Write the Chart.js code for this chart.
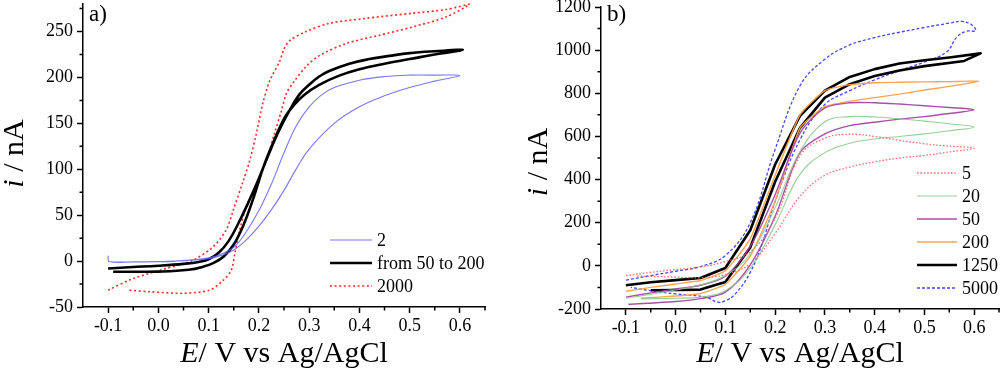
<!DOCTYPE html>
<html><head><meta charset="utf-8">
<script src="https://cdn.jsdelivr.net/npm/chart.js@4"></script>
<style>
html,body{margin:0;padding:0;background:#fff;}
#wrap{position:relative;width:1000px;height:373px;overflow:hidden;}
.pane{position:absolute;top:0;width:500px;height:373px;}
canvas{display:block;}
</style></head><body>
<div id="wrap">
<div class="pane" style="left:0"><canvas id="ca" width="500" height="373"></canvas></div>
<div class="pane" style="left:500px"><canvas id="cb" width="500" height="373"></canvas></div>
</div>
<script>
const FONT = '"Liberation Serif", "Times New Roman", Times, serif';

/* ---------- panel a ---------- */
const aXTicks = [-0.1, 0, 0.1, 0.2, 0.3, 0.4, 0.5, 0.6];
const aYTicks = [-50, 0, 50, 100, 150, 200, 250];
const aXMinor = [-0.05, 0.05, 0.15, 0.25, 0.35, 0.45, 0.55, 0.65];
const aYMinor = [-25, 25, 75, 125, 175, 225, 275];
const aLabels = ['2', 'from 50 to 200', '2000'];

const a2E = [-0.1,-0.098,-0.05,0,0.05,0.1,0.125,0.15,0.175,0.2,0.225,0.25,0.275,0.3,0.325,0.35,0.4,0.45,0.5,0.55,0.6,
             0.55,0.5,0.45,0.4,0.35,0.3,0.275,0.25,0.225,0.2,0.175,0.15,0.125,0.1,0.05,0,-0.05,-0.095];
const a2I = [6,-0.5,-0.8,-0.7,0.5,3.5,7.5,15,32,55,84,118,148,168,181,189,197,201,202.5,202.5,202,
             196,189,180,168,150,122,101,77,56,38,23,12,6,2.5,0.5,-0.5,-1,-1];

const a50E = [-0.1,-0.05,0,0.05,0.08,0.1,0.12,0.14,0.16,0.18,0.2,0.22,0.24,0.26,0.28,0.3,0.32,0.34,0.38,0.42,0.46,0.5,0.55,0.606,
              0.55,0.5,0.45,0.4,0.36,0.32,0.29,0.27,0.25,0.23,0.21,0.19,0.17,0.15,0.13,0.11,0.09,0.06,0,-0.05,-0.09];
const a50I = [-8,-6.5,-5,-3,-1,2,9,22,42,65,90,117,142,163,181,192,201,207,215,220,223.5,226.5,228.5,230,
              225,220,215,209,202,192,181,170,155,131,104,70,40,18,5,-2,-6,-9.5,-11.5,-11.6,-11.6];

const a2000E = [-0.1,-0.05,0.016,0.069,0.109,0.135,0.149,0.168,0.182,0.195,0.208,0.222,0.241,0.25,0.261,0.294,0.341,0.407,0.506,0.573,0.619,
                0.573,0.506,0.44,0.374,0.321,0.294,0.268,0.255,0.245,0.231,0.215,0.195,0.175,0.162,0.152,0.145,0.129,0.102,0.049,-0.017,-0.06];
const a2000I = [-31.6,-19,-8,1,15.6,34,55.5,86,110,139,172,197,217,231,240,250,259,264,270,274,280,
                266,255,246,237,224,212,194,183,164,139,110,83,59,34,8,-10,-21,-31.6,-35,-33.4,-31.6];

/* ---------- panel b ---------- */
const bXTicks = [-0.1, 0, 0.1, 0.2, 0.3, 0.4, 0.5, 0.6];
const bYTicks = [-200, 0, 200, 400, 600, 800, 1000, 1200];
const bXMinor = [-0.05, 0.05, 0.15, 0.25, 0.35, 0.45, 0.55, 0.65];
const bYMinor = [-100, 100, 300, 500, 700, 900, 1100];
const bLabels = ['5', '20', '50', '200', '1250', '5000'];

const b5E = [-0.1,-0.05,0,0.05,0.1,0.15,0.2,0.25,0.3,0.35,0.4,0.45,0.5,0.55,0.6, 0.55,0.5,0.45,0.4,0.35,0.3,0.25,0.2,0.15,0.1,0.05,0,-0.08];
const b5I = [-45,-30,-17,-5,20,65,220,510,592,610,600,582,566,555,546, 528,512,500,482,458,420,322,150,10,-40,-55,-52,-47];

const b20E = [-0.1,-0.05,0,0.05,0.1,0.15,0.2,0.25,0.3,0.35,0.4,0.45,0.5,0.55,0.6, 0.55,0.5,0.45,0.4,0.35,0.3,0.25,0.2,0.15,0.1,0.05,0,-0.07];
const b20I = [-150,-132,-112,-88,-45,55,270,530,668,692,690,682,671,659,644, 626,612,600,588,568,525,425,190,-10,-115,-145,-150,-153];

const b50E = [-0.1,-0.05,0,0.05,0.1,0.15,0.2,0.25,0.3,0.35,0.4,0.45,0.5,0.55,0.6, 0.55,0.5,0.45,0.4,0.35,0.3,0.25,0.2,0.15,0.1,0.05,0,-0.095];
const b50I = [-145,-125,-107,-90,-48,90,330,615,732,756,756,750,742,734,724, 706,692,680,666,650,612,525,230,5,-122,-152,-165,-178];

const b200E = [-0.1,-0.05,0,0.05,0.1,0.15,0.2,0.25,0.3,0.35,0.4,0.45,0.5,0.55,0.61, 0.55,0.5,0.45,0.4,0.35,0.3,0.25,0.2,0.15,0.1,0.05,0,-0.07];
const b200I = [-118,-100,-84,-68,-22,125,420,700,812,840,849,851,853,854,856, 832,815,796,780,763,738,640,300,45,-85,-128,-140,-150];

const b1250E = [-0.1,-0.05,0,0.05,0.1,0.15,0.2,0.25,0.3,0.35,0.4,0.45,0.5,0.55,0.613, 0.58,0.5,0.45,0.4,0.35,0.3,0.25,0.2,0.15,0.1,0.05,0,-0.05];
const b1250I = [-90,-76,-66,-56,-10,165,470,695,812,876,912,938,953,966,985, 950,926,906,880,842,780,640,390,85,-75,-110,-112,-113];

const b5000E = [-0.1,-0.05,0,0.05,0.1,0.15,0.2,0.25,0.3,0.35,0.4,0.45,0.5,0.55,0.575,0.595,0.603,
                0.585,0.565,0.545,0.5,0.45,0.4,0.35,0.3,0.25,0.2,0.175,0.15,0.12,0.1,0.085,0.06,0,-0.05,-0.09];
const b5000I = [-66,-45,-25,-3,48,200,540,835,958,1024,1058,1083,1105,1125,1133,1118,1090,
                1088,1060,992,945,905,862,812,748,585,300,110,-30,-130,-162,-168,-145,-130,-115,-100];

/* ---------- helpers ---------- */
const pts = (E, I) => E.map((e, k) => ({x: e, y: I[k]}));
function ds(label, E, I, color, width, dash, tension) {
  return { label, data: pts(E, I), showLine: true, borderColor: color, backgroundColor: color,
           borderWidth: width, borderDash: dash, tension, pointRadius: 0, fill: false, clip: false,
           borderJoinStyle: 'round' };
}

function rich(ctx, parts, size, x, y) {
  let w = 0;
  parts.forEach(p => { ctx.font = (p.it ? 'italic ' : '') + size + 'px ' + FONT; p.w = ctx.measureText(p.t).width; w += p.w; });
  let cx = x - w / 2;
  ctx.textAlign = 'left'; ctx.textBaseline = 'alphabetic';
  parts.forEach(p => { ctx.font = (p.it ? 'italic ' : '') + size + 'px ' + FONT; ctx.fillText(p.t, cx, y); cx += p.w; });
}

function decorPlugin(c) {
  return {
    id: 'decor',
    afterDraw(chart) {
      const ctx = chart.ctx, xs = chart.scales.x, ys = chart.scales.y, ca = chart.chartArea;
      ctx.save();
      ctx.strokeStyle = '#000'; ctx.lineWidth = 1.5;
      ctx.beginPath();
      c.xMinor.forEach(v => { const p = xs.getPixelForValue(v); ctx.moveTo(p, ca.bottom); ctx.lineTo(p, ca.bottom + 3.5); });
      c.yMinor.forEach(v => { const p = ys.getPixelForValue(v); ctx.moveTo(ca.left, p); ctx.lineTo(ca.left - 3.5, p); });
      ctx.stroke();
      ctx.fillStyle = '#000';
      ctx.font = '23px ' + FONT; ctx.textAlign = 'left'; ctx.textBaseline = 'alphabetic';
      ctx.fillText(c.panel, ca.left + 6, 21);
      rich(ctx, [{t: 'E', it: true}, {t: '/ V vs Ag/AgCl'}], 30, (ca.left + ca.right) / 2, 362);
      ctx.save();
      ctx.translate(c.yTitleX, (ca.top + ca.bottom) / 2 + c.yTitleDy);
      ctx.rotate(-Math.PI / 2);
      rich(ctx, [{t: 'i', it: true}, {t: ' / nA'}], 30, 0, 0);
      ctx.restore();
      const L = c.legend;
      chart.data.datasets.forEach((d, k) => {
        const y = L.y0 + k * L.dy;
        ctx.save();
        ctx.strokeStyle = d.borderColor; ctx.lineWidth = d.borderWidth;
        ctx.setLineDash(d.borderDash || []);
        ctx.beginPath(); ctx.moveTo(L.x0, y); ctx.lineTo(L.x1, y); ctx.stroke();
        ctx.restore();
        ctx.fillStyle = '#000'; ctx.font = '18px ' + FONT; ctx.textAlign = 'left'; ctx.textBaseline = 'middle';
        ctx.fillText(d.label, L.tx, y + 1);
      });
      ctx.restore();
    }
  };
}

function makeChart(id, c) {
  return new Chart(document.getElementById(id), {
    type: 'scatter',
    data: { datasets: c.datasets },
    options: {
      responsive: false, animation: false, devicePixelRatio: 1,
      layout: { padding: c.padding },
      plugins: { legend: {display: false}, tooltip: {enabled: false}, title: {display: false} },
      elements: { point: { radius: 0 } },
      scales: {
        x: {
          type: 'linear', min: c.xMin, max: c.xMax,
          afterBuildTicks: s => { s.ticks = c.xTicks.map(v => ({value: v})); },
          afterFit: s => { s.height = c.xHeight; s.paddingLeft = 0; s.paddingRight = 0; },
          ticks: { callback: v => Number(v).toFixed(1), color: '#000', font: {family: FONT, size: 18}, padding: 2, maxRotation: 0, minRotation: 0, autoSkip: false },
          grid: { drawOnChartArea: false, drawTicks: true, tickLength: 6, tickColor: '#000', tickWidth: 1.5 },
          border: { display: true, color: '#000', width: 1.5 }
        },
        y: {
          type: 'linear', min: c.yMin, max: c.yMax,
          afterBuildTicks: s => { s.ticks = c.yTicks.map(v => ({value: v})); },
          afterFit: s => { s.width = c.yWidth; s.paddingTop = 0; s.paddingBottom = 0; },
          ticks: { callback: v => String(Math.round(v)), color: '#000', font: {family: FONT, size: 18}, padding: 4, autoSkip: false },
          grid: { drawOnChartArea: false, drawTicks: true, tickLength: 6, tickColor: '#000', tickWidth: 1.5 },
          border: { display: true, color: '#000', width: 1.5 }
        }
      }
    },
    plugins: [decorPlugin(c)]
  });
}

makeChart('ca', {
  datasets: [
    ds(aLabels[0], a2E, a2I, 'rgba(95,95,255,0.85)', 1.1, [], 0.4),
    ds(aLabels[1], a50E, a50I, '#000000', 2.6, [], 0.4),
    ds(aLabels[2], a2000E, a2000I, '#ff2a2a', 1.6, [2, 2.6], 0.3)
  ],
  padding: {top: 4, right: 15, left: 0, bottom: 0},
  xMin: -0.15, xMax: 0.65, yMin: -50, yMax: 280,
  xTicks: aXTicks, yTicks: aYTicks, xMinor: aXMinor, yMinor: aYMinor,
  xHeight: 66, yWidth: 83, panel: 'a)', yTitleX: 23, yTitleDy: -2,
  legend: {x0: 330, x1: 372, tx: 377, y0: 240, dy: 23}
});

makeChart('cb', {
  datasets: [
    ds(bLabels[0], b5E, b5I, 'rgba(255,100,100,0.9)', 1.3, [1.6, 1.8], 0.4),
    ds(bLabels[1], b20E, b20I, 'rgba(140,200,140,0.9)', 1.1, [], 0.4),
    ds(bLabels[2], b50E, b50I, 'rgba(160,60,160,0.9)', 1.4, [], 0.3),
    ds(bLabels[3], b200E, b200I, 'rgba(255,160,70,0.95)', 1.4, [], 0.15),
    ds(bLabels[4], b1250E, b1250I, '#000000', 2.6, [], 0),
    ds(bLabels[5], b5000E, b5000I, 'rgba(60,60,255,0.95)', 1.3, [3, 2], 0.4)
  ],
  padding: {top: 7, right: 1, left: 0, bottom: 0},
  xMin: -0.15, xMax: 0.65, yMin: -200, yMax: 1200,
  xTicks: bXTicks, yTicks: bYTicks, xMinor: bXMinor, yMinor: bYMinor,
  xHeight: 64, yWidth: 101, panel: 'b)', yTitleX: 47, yTitleDy: 4,
  legend: {x0: 417, x1: 457, tx: 462, y0: 173, dy: 23}
});
</script>
</body></html>
